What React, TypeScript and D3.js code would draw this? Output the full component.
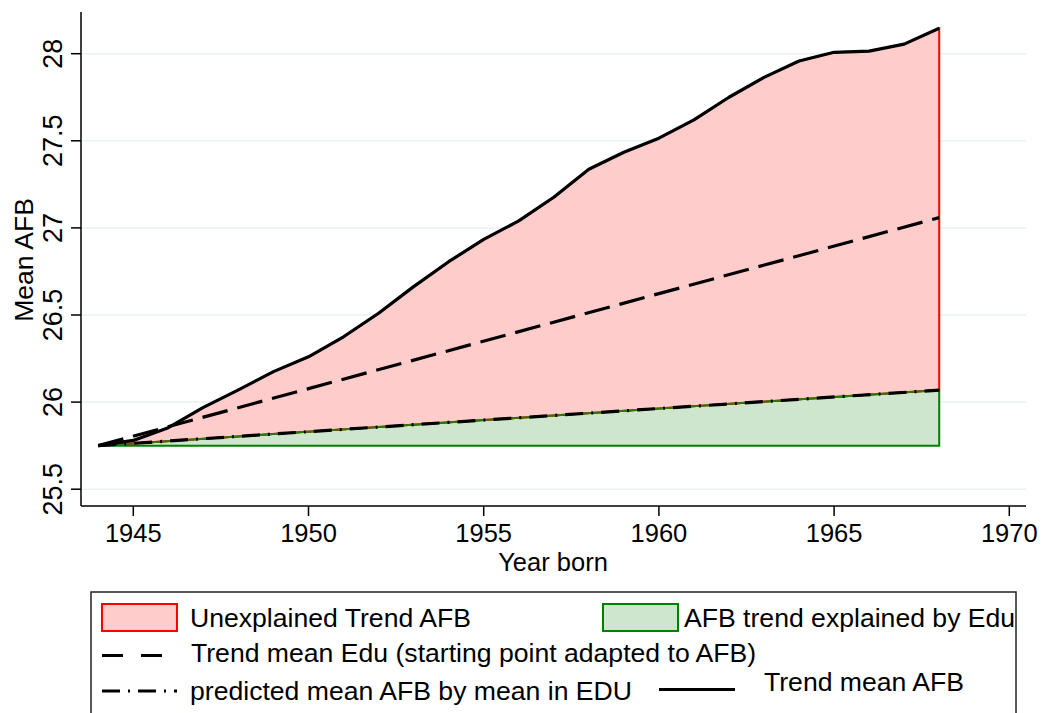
import React, { useEffect, useRef } from "react";
import * as d3 from "d3";

// year of birth and mean age at first birth
const years = [1944, 1945, 1946, 1947, 1948, 1949, 1950, 1951, 1952, 1953, 1954, 1955, 1956,
  1957, 1958, 1959, 1960, 1961, 1962, 1963, 1964, 1965, 1966, 1967, 1968];
const meanAFB = [25.75, 25.78, 25.853, 25.97, 26.07, 26.175, 26.26, 26.375, 26.51, 26.663, 26.806,
  26.934, 27.04, 27.176, 27.337, 27.434, 27.515, 27.62, 27.75, 27.864, 27.958, 28.008, 28.015,
  28.055, 28.146];

// straight trend lines
const eduYears = [1944, 1968];
const trendEdu = [25.75, 27.059];
const predYears = [1944, 1955, 1968];
const predictedAFB = [25.75, 25.897, 26.069];
const baseYears = [1944, 1968];
const baseAFB = [25.75, 25.75];

const xTicks = [1945, 1950, 1955, 1960, 1965, 1970];
const yTicks = [25.5, 26, 26.5, 27, 27.5, 28];

const legendLabels = [
  "Unexplained Trend AFB",
  "AFB trend explained by Edu",
  "Trend mean Edu (starting point adapted to AFB)",
  "predicted mean AFB by mean in EDU",
  "Trend mean AFB",
];

const W = 1042;
const H = 713;
const FONT = "'Liberation Sans', Arial, Helvetica, sans-serif";

const App = () => {
  const svgRef = useRef<SVGSVGElement | null>(null);

  useEffect(() => {
    const svg = d3.select(svgRef.current);
    svg.selectAll("*").remove();

    const x = d3.scaleLinear().domain([1945, 1970]).range([133.3, 1009.3]);
    const y = d3.scaleLinear().domain([25.5, 28]).range([489.2, 53.7]);
    const left = 81, right = 1026, top = 12, bottom = 506;

    const pts = (xs: number[], ys: number[]) => xs.map((v, i) => [v, ys[i]] as [number, number]);
    const line = d3.line<[number, number]>().x(d => x(d[0])).y(d => y(d[1]));

    const solid = pts(years, meanAFB);
    const pred = pts(predYears, predictedAFB);
    const base = pts(baseYears, baseAFB);
    const edu = pts(eduYears, trendEdu);

    // gridlines
    svg.append("g")
      .selectAll("line")
      .data(yTicks)
      .enter()
      .append("line")
      .attr("x1", left)
      .attr("x2", right)
      .attr("y1", d => y(d))
      .attr("y2", d => y(d))
      .attr("stroke", "#eaf2f3")
      .attr("stroke-width", 1.5);

    // green area (baseline -> predicted)
    svg.append("path")
      .attr("d", line([...base, ...pred.slice().reverse()]) + "Z")
      .attr("fill", "#cde6cd")
      .attr("stroke", "#008000")
      .attr("stroke-width", 2);

    // red area (predicted -> mean AFB)
    svg.append("path")
      .attr("d", line([...solid, ...pred.slice().reverse()]) + "Z")
      .attr("fill", "#ffcccc")
      .attr("stroke", "#ff0000")
      .attr("stroke-width", 2);

    // green outline again along the predicted line (it shows through in the original)
    svg.append("path")
      .attr("d", line(pred))
      .attr("fill", "none")
      .attr("stroke", "#2a7a00")
      .attr("stroke-width", 2);

    // predicted (dash-dot)
    svg.append("path")
      .attr("d", line(pred))
      .attr("fill", "none")
      .attr("stroke", "#000")
      .attr("stroke-width", 3.2)
      .attr("stroke-dasharray", "18 8 2 8");

    // edu trend (dashed)
    svg.append("path")
      .attr("d", line(edu))
      .attr("fill", "none")
      .attr("stroke", "#000")
      .attr("stroke-width", 3.2)
      .attr("stroke-dasharray", "26 10");

    // mean AFB (solid)
    svg.append("path")
      .attr("d", line(solid))
      .attr("fill", "none")
      .attr("stroke", "#000")
      .attr("stroke-width", 3.2)
      .attr("stroke-linejoin", "round");

    // axes
    svg.append("line")
      .attr("x1", left).attr("x2", left).attr("y1", top).attr("y2", bottom)
      .attr("stroke", "#000").attr("stroke-width", 1.5);
    svg.append("line")
      .attr("x1", left).attr("x2", right).attr("y1", bottom).attr("y2", bottom)
      .attr("stroke", "#000").attr("stroke-width", 1.5);

    const yt = svg.append("g").selectAll("g").data(yTicks).enter().append("g");
    yt.append("line")
      .attr("x1", left - 10).attr("x2", left)
      .attr("y1", d => y(d)).attr("y2", d => y(d))
      .attr("stroke", "#000").attr("stroke-width", 1.5);
    yt.append("text")
      .attr("transform", d => `translate(62, ${y(d)}) rotate(-90)`)
      .attr("text-anchor", "middle")
      .style("font-family", FONT)
      .style("font-size", "27px")
      .text(d => String(d));

    const xt = svg.append("g").selectAll("g").data(xTicks).enter().append("g");
    xt.append("line")
      .attr("x1", d => x(d)).attr("x2", d => x(d))
      .attr("y1", bottom).attr("y2", bottom + 10)
      .attr("stroke", "#000").attr("stroke-width", 1.5);
    xt.append("text")
      .attr("x", d => x(d))
      .attr("y", 542)
      .attr("text-anchor", "middle")
      .style("font-family", FONT)
      .style("font-size", "25.5px")
      .text(d => String(d));

    // axis titles
    svg.append("text")
      .attr("x", 553)
      .attr("y", 571)
      .attr("text-anchor", "middle")
      .style("font-family", FONT)
      .style("font-size", "25.5px")
      .text("Year born");
    svg.append("text")
      .attr("transform", "translate(33, 260) rotate(-90)")
      .attr("text-anchor", "middle")
      .style("font-family", FONT)
      .style("font-size", "26.5px")
      .text("Mean AFB");

    // legend
    const lg = svg.append("g");
    lg.append("rect")
      .attr("x", 91).attr("y", 592).attr("width", 925).attr("height", 140)
      .attr("fill", "#fff").attr("stroke", "#222").attr("stroke-width", 1.5);

    lg.append("rect")
      .attr("x", 102).attr("y", 604).attr("width", 75).attr("height", 27)
      .attr("fill", "#ffcccc").attr("stroke", "#ff0000").attr("stroke-width", 2);
    lg.append("rect")
      .attr("x", 603).attr("y", 604).attr("width", 75).attr("height", 27)
      .attr("fill", "#cde6cd").attr("stroke", "#008000").attr("stroke-width", 2);
    lg.append("line")
      .attr("x1", 102).attr("x2", 170).attr("y1", 655.5).attr("y2", 655.5)
      .attr("stroke", "#000").attr("stroke-width", 3.2).attr("stroke-dasharray", "21 18");
    lg.append("line")
      .attr("x1", 102).attr("x2", 177).attr("y1", 691).attr("y2", 691)
      .attr("stroke", "#000").attr("stroke-width", 3.2).attr("stroke-dasharray", "18 8 2 8");
    lg.append("line")
      .attr("x1", 659).attr("x2", 735).attr("y1", 689.5).attr("y2", 689.5)
      .attr("stroke", "#000").attr("stroke-width", 3.2);

    const legendText = [
      { t: legendLabels[0], x: 190, y: 626.5 },
      { t: legendLabels[1], x: 684, y: 626.5 },
      { t: legendLabels[2], x: 191, y: 662 },
      { t: legendLabels[3], x: 190, y: 700 },
      { t: legendLabels[4], x: 764, y: 690.5 },
    ];
    lg.selectAll("text.leg")
      .data(legendText)
      .enter()
      .append("text")
      .attr("class", "leg")
      .attr("x", d => d.x)
      .attr("y", d => d.y)
      .style("font-family", FONT)
      .style("font-size", "26.6px")
      .text(d => d.t);
  }, []);

  return (
    <svg
      ref={svgRef}
      width={W}
      height={H}
      style={{ position: "absolute", left: 0, top: 0, background: "#fff" }}
    />
  );
};

export default App;
